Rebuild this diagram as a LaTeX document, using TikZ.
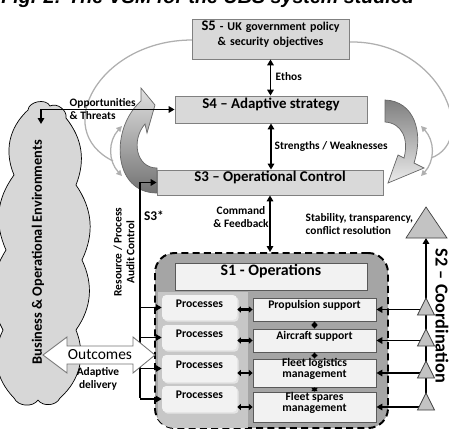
\documentclass[tikz,border=0pt]{standalone}
\usepackage{fontspec}
\setmainfont{Carlito}
\newfontfamily\headfont{Liberation Sans}
\usetikzlibrary{arrows.meta,fit,shadows}

\newcommand\lblfont{\fontsize{8.1}{9}\selectfont\bfseries}
\newcommand\sysfont{\fontsize{10.6}{12}\selectfont\bfseries}
\newcommand\opfont{\fontsize{8.3}{7.9}\selectfont\bfseries}

\begin{document}
\begin{tikzpicture}[x=0.25mm, y=-0.25mm,
    sysbox/.style={draw=edgegrey, fill=boxgrey, line width=0.6pt, inner sep=0pt, font=\sysfont},
    opbox/.style={draw=black!65, fill=paper, line width=0.6pt, inner sep=0pt, align=center, font=\opfont},
    procbox/.style={fill=paper, rounded corners=3pt, inner sep=0pt, font=\opfont,
      drop shadow={fill=black!10, shadow xshift=1.2pt, shadow yshift=-1.2pt, opacity=1}},
    link/.style={line width=1.1pt, {Triangle[length=4.2pt,width=4.6pt]}-{Triangle[length=4.2pt,width=4.6pt]}},
    feed/.style={line width=1.1pt, -{Triangle[length=4.2pt,width=4.6pt]}},
    shortlink/.style={line width=1.8pt, {Triangle[length=2.6pt,width=4.4pt]}-{Triangle[length=2.6pt,width=4.4pt]}},
    loopline/.style={draw=loopgrey, line width=0.9pt},
    looparrow/.style={loopline, {Triangle[length=4pt,width=4pt]}-{Triangle[length=4pt,width=4pt]}},
    fatarrow/.style={draw=black!60, line width=0.5pt},
    junction/.style={draw=black!75, fill=trigrey, line width=0.5pt},
    lbl/.style={font=\lblfont, inner sep=1pt}]

    % Define colours
    \definecolor{boxgrey}{RGB}{217,217,217}
    \definecolor{edgegrey}{RGB}{128,128,128}
    \definecolor{paper}{RGB}{242,242,242}
    \definecolor{opgrey}{RGB}{165,165,165}
    \definecolor{loopgrey}{RGB}{175,175,175}
    \definecolor{cloudgrey}{RGB}{215,215,215}
    \definecolor{trigrey}{RGB}{195,195,195}

    \useasboundingbox (0,0) rectangle (449,432);

    % Title line, cut off by the top edge
    \begin{scope}
        \clip (0,0) rectangle (449,8);
        \node[anchor=base west, inner sep=0pt, font=\headfont\bfseries\itshape\fontsize{14}{16}\selectfont] (title) at (1,3.5) {Fig. 2: The VSM for the UBS system studied};
    \end{scope}

    % Grey loops round the management boxes
    \draw[loopline] (192,40) .. controls (100,40) and (50,130) .. (113,161);
    \draw[loopline] (349,42) .. controls (440,40) and (480,140) .. (431,158);
    \draw[looparrow] (122,126) .. controls (108,141) and (108,161) .. (122,176);
    \draw[looparrow] (421,126) .. controls (435,141) and (435,161) .. (421,176);

    % Fat curved arrows between S3 and S4
    \draw[fatarrow, top color=black!12, bottom color=black!55] (157,168) .. controls (136,168) and (131,140) .. (145,124) -- (147,133) -- (155,105) -- (141,88) -- (141,101) .. controls (110,128) and (112,193) .. (157,193) -- cycle;
    \draw[fatarrow, top color=black!50, bottom color=black!8] (385,100) .. controls (414,101) and (424,132) .. (414,163) -- (424,168) -- (388,183) -- (398,155) -- (404,158) .. controls (409,139) and (402,123) .. (385,122) -- cycle;

    % Environment cloud
    \filldraw[fill=cloudgrey, draw=black, line width=0.5pt] (14,398) to[bend left=35] (3,330) to[bend left=30] (6,250) to[bend left=30] (14,175) to[bend left=35] (28,110) to[bend left=75] (50,106) to[bend left=65] (66,118) to[bend left=30] (76,185) to[bend left=30] (82,260) to[bend left=30] (76,330) to[bend left=35] (60,398) to[bend left=60] (38,400) to[bend left=60] (14,398) -- cycle;
    \node[rotate=90, inner sep=0pt, font=\fontsize{10.2}{12}\selectfont\bfseries] (env) at (38,252) {Business \& Operational Environments};

    % S5, S4, S3
    \node[sysbox, fit={(192,19) (349,59)}, align=center, font=\fontsize{8.5}{10.7}\selectfont\bfseries] (s5) {{\fontsize{10.4}{10.7}\selectfont S5} - UK government policy\\\& security objectives};
    \node[sysbox, fit={(175,96) (367,123)}] (s4) {S4 – Adaptive strategy};
    \node[sysbox, fit={(157,170) (383,195)}] (s3) {S3 – Operational Control};

    % S1 operations block
    \node[fit={(155,253) (388,428)}, inner sep=0pt, fill=opgrey, draw=black, line width=1.4pt, dash pattern=on 5pt off 3pt, rounded corners=14pt] (s1) {};
    \begin{scope}
        \clip[rounded corners=14pt] (155,253) rectangle (388,428);
        \fill[black!22] (158,292) rectangle (248,428);
    \end{scope}
    \node[opbox, fit={(175,263) (367,290)}, font=\fontsize{11.3}{13}\selectfont\bfseries] (s1title) {S1 - Operations};
    \foreach \name/\ya/\yb in {p1/295/320, p2/325/350, p3/355/382, p4/386/412}
        \node[procbox, fit={(162,\ya) (237,\yb)}] (\name) {Processes};
    \node[opbox, fit={(253,298) (376,321)}] (prop) {Propulsion support};
    \node[opbox, fit={(253,329) (376,352)}] (air) {Aircraft support};
    \node[opbox, fit={(253,359) (376,387)}] (logi) {Fleet logistics\\management};
    \node[opbox, fit={(253,392) (376,422)}] (spare) {Fleet spares\\management};
    \foreach \a/\b in {p1/prop, p2/air, p3/logi, p4/spare}
        \draw[shortlink] (\b.west -| \a.east) -- (\b.west);
    \foreach \a/\b in {prop/air, air/logi, logi/spare}
        \draw[shortlink] (\a.south) -- (\b.north);

    % Vertical channels
    \draw[link] (s5.south) -- (s5.south |- s4.north);
    \draw[link] (s4.south) -- (s4.south |- s3.north);
    \draw[link] (s3.south) -- (s3.south |- s1.north);
    \node[lbl, anchor=west] (ethos) at (274,77) {Ethos};
    \node[lbl, anchor=west] (sw) at (273,146) {Strengths / Weaknesses};
    \node[lbl, align=center] (cmd) at (241,217) {Command\\\& Feedback};
    \node[lbl, anchor=west, align=left] (stab) at (304,224) {Stability, transparency,\\conflict resolution};

    % Opportunities & Threats
    \coordinate (envtop) at (41,124);
    \node[lbl, anchor=west, align=left] (opp) at (68,109) {Opportunities\\\& Threats};
    \draw[link] (envtop) |- (s4.west);

    % S3* audit channel
    \coordinate (audit) at (140,398);
    \draw[feed] (audit) |- (s3.west);
    \foreach \i in {1,...,4}
        \draw[feed] (audit |- p\i.west) -- (p\i.west);
    \node[inner sep=0pt, font=\fontsize{9.5}{11}\selectfont\bfseries] (s3star) at (154,216) {S3*};
    \node[lbl, rotate=90, align=center] (rpac) at (124,252) {Resource / Process\\Audit Control};

    % Outcomes
    \draw[fill=white, draw=black!55, line width=0.6pt] (43,355) -- (67,337) -- (67,346) -- (133,346) -- (133,337) -- (155,355) -- (133,373) -- (133,364) -- (67,364) -- (67,373) -- cycle;
    \node[inner sep=0pt, font=\fontsize{11}{13}\selectfont] (outcomes) at (100,355) {Outcomes};
    \node[lbl, align=center] (delivery) at (98,379) {Adaptive\\delivery};

    % S2 coordination
    \coordinate (s2low) at (426,410);
    \coordinate (s2top) at (426,238);
    \draw[feed] (s2low) -- (s2top);
    \foreach \b in {prop, air, logi, spare}
        \draw[feed] (s2low |- \b.east) -- (\b.east);
    \foreach \yb in {315,346,378,410}
        \filldraw[junction] (417.5,\yb) -- (426,\yb-17) -- (434.5,\yb) -- cycle;
    \filldraw[junction] (406,238) -- (426,207) -- (447,238) -- cycle;
    \node[rotate=-90, inner sep=0pt, font=\fontsize{13}{15}\selectfont\bfseries] (s2) at (442,316) {S2 – Coordination};
\end{tikzpicture}
\end{document}
